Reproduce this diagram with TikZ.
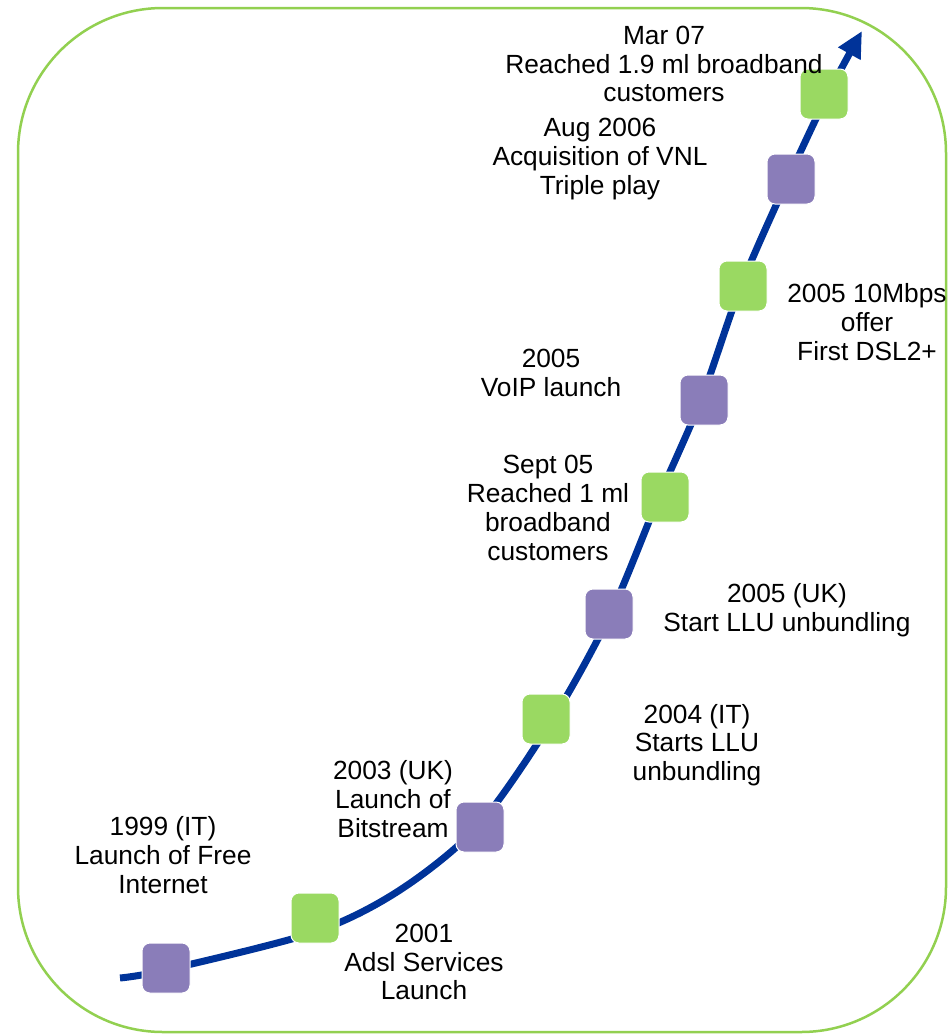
\documentclass[tikz,border=0pt]{standalone}
\usepackage{fontspec}
\setmainfont{Liberation Sans}
\usetikzlibrary{arrows.meta}
\definecolor{bordergreen}{HTML}{92D050}
\definecolor{boxgreen}{HTML}{9AD962}
\definecolor{boxpurple}{HTML}{8A7DB9}
\definecolor{lineblue}{HTML}{003399}
\tikzset{
  mstone/.style={rectangle, rounded corners=8pt, minimum width=48pt, minimum height=50pt, inner sep=0pt, draw=white, line width=1pt},
  gbox/.style={mstone, fill=boxgreen},
  pbox/.style={mstone, fill=boxpurple},
  lbl/.style={align=center, inner sep=0pt, font=\fontsize{26.3}{28.8}\selectfont},
  timeline/.style={lineblue, line width=7pt, -{Triangle[length=26pt,width=24pt]}}
}
\begin{document}
\begin{tikzpicture}[x=1pt,y=-1pt]
\useasboundingbox (0,0) rectangle (948,1034);
\draw[bordergreen, line width=2.5pt, rounded corners=145pt] (18,8) rectangle (946,1032);

% points the timeline passes through
\coordinate (start) at (120,978);
\coordinate (p1) at (166,970);
\coordinate (p2) at (315,932);
\coordinate (pv) at (400,890);
\coordinate (p3) at (478,826);
\coordinate (p4) at (551,722);
\coordinate (p5) at (610,615);
\coordinate (p6) at (659,497);
\coordinate (p7) at (701,400);
\coordinate (p8) at (741,286);
\coordinate (p9) at (788,179);
\coordinate (p10) at (828,94);
\coordinate (tip) at (862,31);

\draw[timeline] plot[smooth, tension=0.5] coordinates {(start) (p1) (p2) (pv) (p3) (p4) (p5) (p6) (p7) (p8) (p9) (p10) (tip)};

\node[pbox] (b1) at (166,968) {};
\node[gbox] (b2) at (315,918) {};
\node[pbox] (b3) at (480,827) {};
\node[gbox] (b4) at (546,719) {};
\node[pbox] (b5) at (609,614) {};
\node[gbox] (b6) at (665,497) {};
\node[pbox] (b7) at (704,400) {};
\node[gbox] (b8) at (743,286) {};
\node[pbox] (b9) at (791,179) {};
\node[gbox] (b10) at (824,94) {};

\node[lbl] (t10) at (664,64) {Mar 07\\Reached 1.9 ml broadband\\customers};
\node[lbl] (t9) at (600,159) {Aug 2006\\Acquisition of VNL\\Triple play};
\node[lbl] (t8) at (867,322) {2005 10Mbps\\offer\\First DSL2+};
\node[lbl] (t7) at (551,373) {2005\\VoIP launch};
\node[lbl] (t6) at (548,508) {Sept 05\\Reached 1 ml\\broadband\\customers};
\node[lbl] (t5) at (787,610) {2005 (UK)\\Start LLU unbundling};
\node[lbl] (t4) at (697,745) {2004 (IT)\\Starts LLU\\unbundling};
\node[lbl] (t3) at (393,799) {2003 (UK)\\Launch of\\Bitstream};
\node[lbl] (t1) at (163,855) {1999 (IT)\\Launch of Free\\Internet};
\node[lbl] (t2) at (424,962) {2001\\Adsl Services\\Launch};
\end{tikzpicture}
\end{document}
